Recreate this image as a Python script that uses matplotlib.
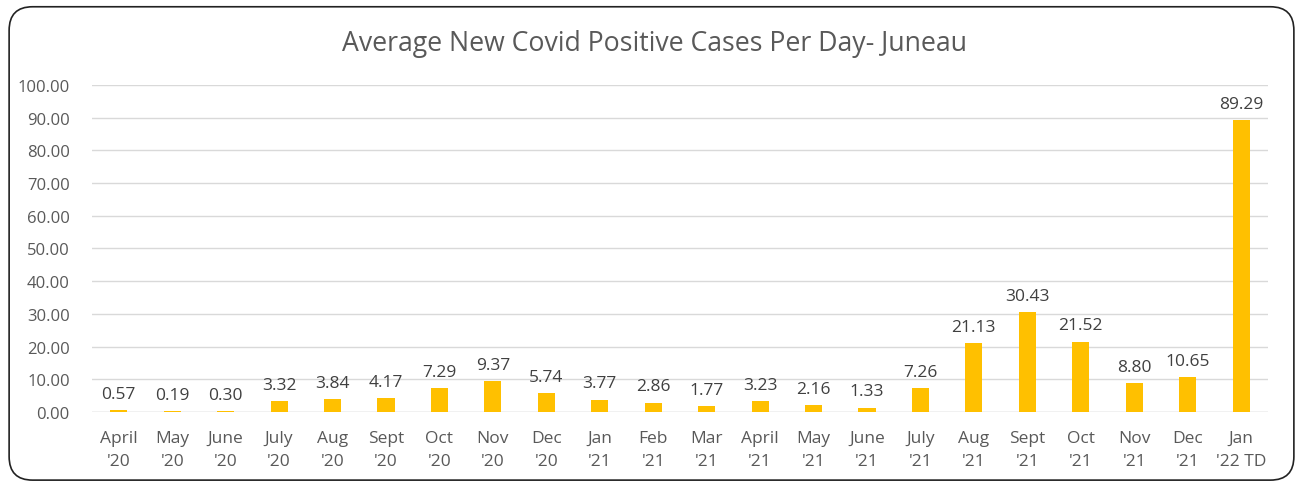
import matplotlib.pyplot as plt
from matplotlib.patches import FancyBboxPatch

months = ["April", "May", "June", "July", "Aug", "Sept", "Oct", "Nov", "Dec",
          "Jan", "Feb", "Mar", "April", "May", "June", "July", "Aug", "Sept",
          "Oct", "Nov", "Dec", "Jan"]
years = ["'20"] * 9 + ["'21"] * 12 + ["'22 TD"]
cases = [0.57, 0.19, 0.30, 3.32, 3.84, 4.17, 7.29, 9.37, 5.74, 3.77, 2.86,
         1.77, 3.23, 2.16, 1.33, 7.26, 21.13, 30.43, 21.52, 8.80, 10.65, 89.29]
yticks = [0, 10, 20, 30, 40, 50, 60, 70, 80, 90, 100]

plt.rcParams["font.family"] = ["Open Sans", "DejaVu Sans"]
text_color = "#595959"

fig = plt.figure(figsize=(13.03, 4.85), dpi=100)
border = FancyBboxPatch((0.007, 0.008), 0.986, 0.976,
                        boxstyle="round,pad=0,rounding_size=0.018",
                        transform=fig.transFigure, facecolor="white",
                        edgecolor="#222222", linewidth=1.2, mutation_aspect=2.7,
                        zorder=-1)
fig.patches.append(border)

ax = fig.add_axes([0.0706, 0.1485, 0.9024, 0.6742])
ax.set_facecolor("none")
x = list(range(len(cases)))
ax.bar(x, cases, width=0.32, color="#FFC000", zorder=3)

for xi, v in zip(x, cases):
    ax.annotate(f"{v:.2f}", (xi, v), xytext=(0, 6), textcoords="offset points",
                ha="center", va="bottom", fontsize=12.5, color="#404040")

ax.set_xlim(-0.5, len(cases) - 0.5)
ax.set_ylim(0, 100)
ax.set_yticks(yticks)
ax.set_yticklabels([f"{t:.2f}" for t in yticks])
ax.set_xticks(x)
ax.set_xticklabels([f"{m}\n{y}" for m, y in zip(months, years)], linespacing=1.55)
ax.tick_params(axis="both", length=0, colors=text_color)
ax.tick_params(axis="x", pad=13, labelsize=12.5)
ax.tick_params(axis="y", pad=16, labelsize=12)
ax.grid(axis="y", color="#D9D9D9", linewidth=1, zorder=0)
for s in ax.spines.values():
    s.set_visible(False)
ax.axhline(0, color="#D9D9D9", linewidth=1, zorder=1)

fig.text(0.502, 0.91, "Average New Covid Positive Cases Per Day- Juneau",
         ha="center", va="center", fontsize=19.2, color=text_color)

fig.savefig("out.png", dpi=100)
